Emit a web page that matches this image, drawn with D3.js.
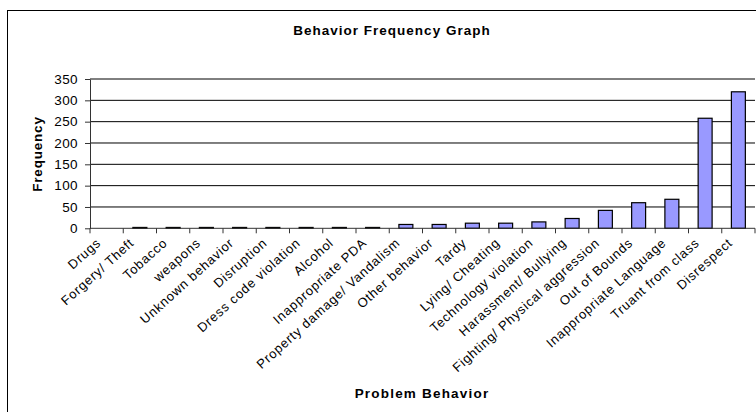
<!DOCTYPE html>
<html>
<head>
<meta charset="utf-8">
<script src="https://cdn.jsdelivr.net/npm/d3@7"></script>
<style>
  body { margin: 0; background: #fff; }
  svg { display: block; font-family: "Liberation Sans", Arial, sans-serif; }
</style>
</head>
<body>
<svg id="canvas"></svg>
<script>
// behaviours, sorted like the sheet
let categories = [
    "Drugs", "Forgery/ Theft", "Tobacco", "weapons", "Unknown behavior",
    "Disruption", "Dress code violation", "Alcohol", "Inappropriate PDA",
    "Property damage/ Vandalism", "Other behavior", "Tardy", "Lying/ Cheating",
    "Technology violation", "Harassment/ Bullying", "Fighting/ Physical aggression",
    "Out of Bounds", "Inappropriate Language", "Truant from class", "Disrespect"
]
let frequency = [0, 2, 2, 2, 2, 2, 2, 2, 2, 9, 9, 12, 12, 15, 23, 42, 60, 68, 258, 320]
let yTicks = [0, 50, 100, 150, 200, 250, 300, 350]

let width = 756, height = 412

let svg = d3.select("#canvas")
    .attr("width", width)
    .attr("height", height)

// chart frame
svg.append("rect")
    .attr("x", 7.5).attr("y", 10.5)
    .attr("width", 800).attr("height", 450)
    .attr("fill", "none")
    .attr("stroke", "#000")
    .attr("stroke-width", 1)

let x = d3.scaleBand()
    .domain(categories)
    .range([90, 755])
    .paddingInner(0.58)
    .paddingOuter(0.29)

let y = d3.scaleLinear()
    .domain([0, 350])
    .range([228.3, 79])

// gridlines
svg.append("g")
    .selectAll("line")
    .data(yTicks.slice(1))
    .enter().append("line")
    .attr("x1", 90).attr("x2", 755)
    .attr("y1", d => y(d)).attr("y2", d => y(d))
    .attr("stroke", "#000")
    .attr("stroke-width", 1)

// y axis
let yAxis = svg.append("g")
    .attr("transform", "translate(90,0)")
    .call(d3.axisLeft(y).tickValues(yTicks).tickSize(5).tickSizeOuter(0).tickPadding(7))
yAxis.select(".domain").attr("stroke", "#333")
yAxis.selectAll(".tick line").attr("stroke", "#333")
yAxis.selectAll("text")
    .attr("font-size", 13.5)
    .attr("letter-spacing", 0.4)
    .attr("fill", "#000")
    .style("font-family", "'Liberation Sans', Arial, sans-serif")

// bars
svg.append("g")
    .selectAll("rect")
    .data(categories)
    .enter().append("rect")
    .attr("x", d => x(d))
    .attr("width", x.bandwidth())
    .attr("y", (d, i) => y(frequency[i]))
    .attr("height", (d, i) => y(0) - y(frequency[i]))
    .attr("fill", "#9999FF")
    .attr("stroke", "#000")
    .attr("stroke-width", 1.2)
    .attr("display", (d, i) => frequency[i] > 0 ? null : "none")

// x axis line and ticks between categories
let gap = (x.step() - x.bandwidth()) / 2
let bounds = categories.map(c => x(c) - gap)
bounds.push(x(categories[categories.length - 1]) + x.bandwidth() + gap)

let xAxis = svg.append("g")
xAxis.append("line")
    .attr("x1", 90).attr("x2", 755)
    .attr("y1", y(0)).attr("y2", y(0))
    .attr("stroke", "#333")
xAxis.selectAll(".xtick")
    .data(bounds)
    .enter().append("line")
    .attr("class", "xtick")
    .attr("x1", d => d).attr("x2", d => d)
    .attr("y1", y(0)).attr("y2", y(0) + 5)
    .attr("stroke", "#333")

xAxis.selectAll(".xlabel")
    .data(categories)
    .enter().append("text")
    .attr("class", "xlabel")
    .attr("transform", d => "translate(" + (x(d) + x.bandwidth() / 2 - 5) + "," + 244 + ") rotate(-42)")
    .attr("text-anchor", "end")
    .attr("font-size", 13)
    .attr("letter-spacing", 0.8)
    .text(d => d)

// titles
svg.append("text")
    .attr("x", 392).attr("y", 35)
    .attr("text-anchor", "middle")
    .attr("font-size", 13.5)
    .attr("font-weight", "bold")
    .attr("letter-spacing", 1)
    .text("Behavior Frequency Graph")

svg.append("text")
    .attr("x", 422).attr("y", 398)
    .attr("text-anchor", "middle")
    .attr("font-size", 13.5)
    .attr("font-weight", "bold")
    .attr("letter-spacing", 1.2)
    .text("Problem Behavior")

svg.append("text")
    .attr("transform", "translate(42,154) rotate(-90)")
    .attr("text-anchor", "middle")
    .attr("font-size", 13.5)
    .attr("font-weight", "bold")
    .attr("letter-spacing", 0.8)
    .text("Frequency")
</script>
</body>
</html>
